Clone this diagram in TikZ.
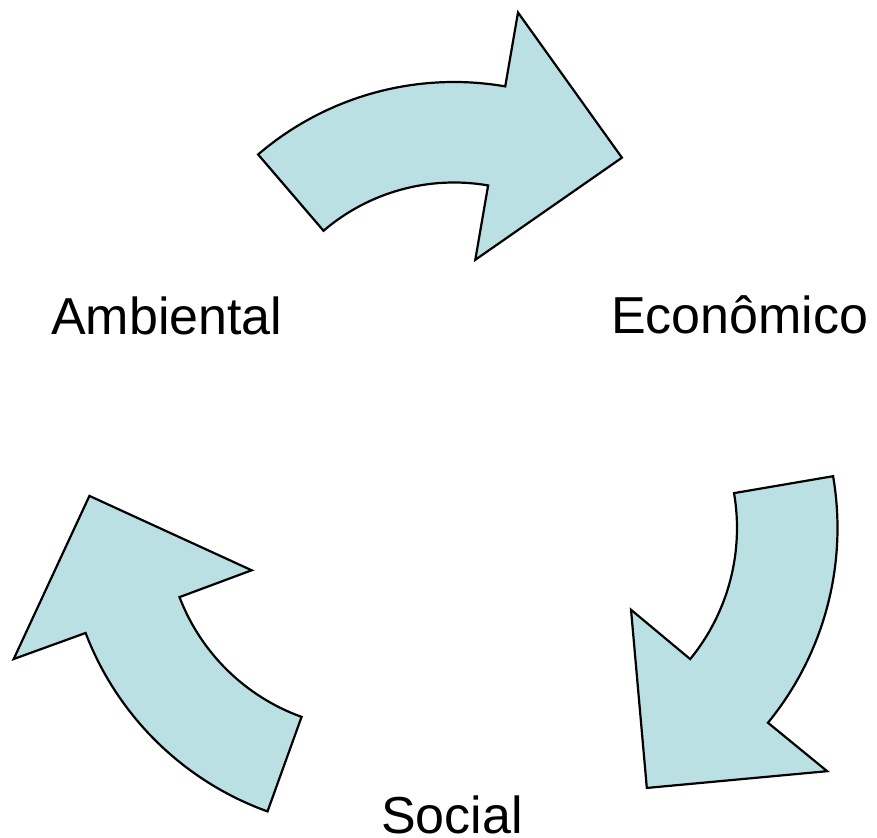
\documentclass[tikz,border=0pt]{standalone}
\usepackage{fontspec}
\setmainfont{Liberation Sans}
\definecolor{arrowfill}{RGB}{187,224,227}
\tikzset{
  cyclearrow/.style={fill=arrowfill, draw=black, line width=2.2pt, line join=miter},
  label/.style={anchor=base west, inner sep=0pt, font=\fontsize{52}{60}\selectfont}
}
\begin{document}
\begin{tikzpicture}
\useasboundingbox (0pt,0pt) rectangle (877pt,837pt);
% top arrow (Ambiental -> Economico)
\begin{scope}[shift={(454pt,454pt)}]
\filldraw[cyclearrow] (130.6:301pt) arc[start angle=130.6, end angle=80.2, radius=301pt]
  -- (80.2:376pt) -- (53.3:281pt) -- (80.2:125pt) -- (80.2:200.5pt)
  arc[start angle=80.2, end angle=130.6, radius=200.5pt] -- cycle;
\end{scope}
% right arrow (Economico -> Social)
\begin{scope}[shift={(530pt,309pt)}]
\filldraw[cyclearrow] (9.7:307.5pt) arc[start angle=9.7, end angle=-39.3, radius=307.5pt]
  -- (-39.3:384pt) -- (-65.8:285pt) -- (-39.0:130pt) -- (-39.3:207pt)
  arc[start angle=-39.3, end angle=9.7, radius=207pt] -- cycle;
\end{scope}
% left arrow (Social -> Ambiental)
\begin{scope}[shift={(371pt,313pt)}]
\filldraw[cyclearrow] (-109.8:305.5pt) arc[start angle=-109.8, end angle=-159.1, radius=305.5pt]
  -- (-159.3:382pt) -- (-185.7:283pt) -- (-158.8:128pt) -- (-159.1:205pt)
  arc[start angle=-159.1, end angle=-109.8, radius=205pt] -- cycle;
\end{scope}
\node[label] (amb) at (51pt,502pt) {Ambiental};
\node[label] (eco) at (611pt,503.5pt) {Econômico};
\node[label] (soc) at (381pt,4pt) {Social};
\end{tikzpicture}
\end{document}
